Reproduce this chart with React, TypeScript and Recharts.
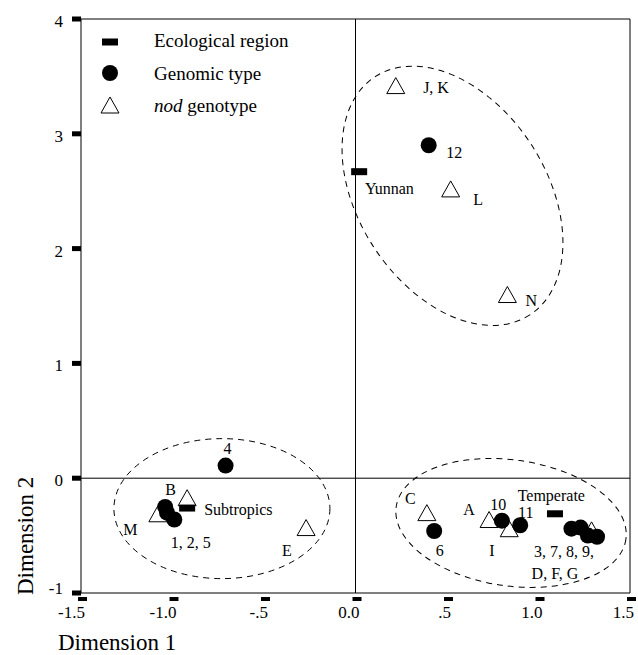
import React from 'react';
import {
  ScatterChart,
  Scatter,
  XAxis,
  YAxis,
  ReferenceLine,
  ReferenceArea,
  Legend,
  Label,
} from 'recharts';

// tick values and their printed labels
const xTicks = [-1.5, -1, -0.5, 0, 0.5, 1, 1.5];
const xTickLabels = ['-1.5', '-1.0', '-.5', '0.0', '.5', '1.0', '1.5'];
const yTicks = [-1, 0, 1, 2, 3, 4];

// ecological regions (black bars)
const ecoRegions = [
  { name: 'Yunnan', x: 0.02, y: 2.67 },
  { name: 'Subtropics', x: -0.92, y: -0.26 },
  { name: 'Temperate', x: 1.09, y: -0.31 },
];

// genomic types (filled circles)
const genomicTypes = [
  { name: '12', x: 0.4, y: 2.9 },
  { name: '4', x: -0.71, y: 0.11 },
  { name: '1', x: -1.04, y: -0.25 },
  { name: '2', x: -1.03, y: -0.3 },
  { name: '5', x: -0.99, y: -0.36 },
  { name: '6', x: 0.43, y: -0.46 },
  { name: '10', x: 0.8, y: -0.37 },
  { name: '11', x: 0.9, y: -0.41 },
  { name: '3', x: 1.18, y: -0.44 },
  { name: '7', x: 1.23, y: -0.43 },
  { name: '8', x: 1.27, y: -0.5 },
  { name: '9', x: 1.32, y: -0.51 },
];

// nod genotypes (open triangles)
const nodGenotypes = [
  { name: 'J, K', x: 0.22, y: 3.42 },
  { name: 'L', x: 0.52, y: 2.52 },
  { name: 'N', x: 0.83, y: 1.6 },
  { name: 'B', x: -0.92, y: -0.17 },
  { name: 'M', x: -1.08, y: -0.31 },
  { name: 'E', x: -0.27, y: -0.43 },
  { name: 'C', x: 0.39, y: -0.3 },
  { name: 'A', x: 0.73, y: -0.36 },
  { name: 'I', x: 0.84, y: -0.44 },
  { name: 'D, F, G', x: 1.29, y: -0.45 },
];

// text annotations next to the points
const pointLabels = [
  { text: 'J, K', x: 0.44, y: 3.4 },
  { text: '12', x: 0.54, y: 2.84 },
  { text: 'Yunnan', x: 0.185, y: 2.52 },
  { text: 'L', x: 0.67, y: 2.43 },
  { text: 'N', x: 0.96, y: 1.55 },
  { text: '4', x: -0.7, y: 0.26 },
  { text: 'B', x: -1.01, y: -0.1 },
  { text: 'Subtropics', x: -0.64, y: -0.27 },
  { text: 'M', x: -1.23, y: -0.45 },
  { text: '1, 2, 5', x: -0.9, y: -0.56 },
  { text: 'E', x: -0.375, y: -0.63 },
  { text: 'C', x: 0.3, y: -0.18 },
  { text: 'A', x: 0.62, y: -0.27 },
  { text: '10', x: 0.78, y: -0.23 },
  { text: '11', x: 0.93, y: -0.3 },
  { text: 'Temperate', x: 1.07, y: -0.15 },
  { text: '6', x: 0.46, y: -0.63 },
  { text: 'I', x: 0.745, y: -0.63 },
  { text: '3, 7, 8, 9,', x: 1.14, y: -0.64 },
  { text: 'D, F, G', x: 1.09, y: -0.83 },
];

// cluster centres of the dashed ellipses
const clusters = [
  { name: 'yunnan', x: 0.53, y: 2.46 },
  { name: 'subtropics', x: -0.73, y: -0.265 },
  { name: 'temperate', x: 0.85, y: -0.39 },
];

// ellipse geometry in pixels (semi axes, rotation)
const ELLIPSE_GEOM: Record<string, { rx: number; ry: number; angle: number }> = {
  yunnan: { rx: 142, ry: 94, angle: 57 },
  subtropics: { rx: 108, ry: 70, angle: 0 },
  temperate: { rx: 116, ry: 63, angle: 8 },
};

const FONT = '"Liberation Serif", "Times New Roman", Times, serif';
const W = 630;
const H = 647;
const PLOT_LEFT = 73;
const PLOT_BOTTOM = 585;

const Bar = (props: any) => {
  const { cx, cy } = props;
  return <rect x={cx - 8} y={cy - 3.5} width={16} height={7} fill="#000" />;
};

const Dot = (props: any) => {
  const { cx, cy } = props;
  return <circle cx={cx} cy={cy} r={8} fill="#000" />;
};

const Tri = (props: any) => {
  const { cx, cy } = props;
  const pts = `${cx},${cy - 8} ${cx + 9},${cy + 8} ${cx - 9},${cy + 8}`;
  return <polygon points={pts} fill="#fff" stroke="#000" strokeWidth={1} />;
};

const TextMark = (props: any) => {
  const { cx, cy, payload } = props;
  return (
    <text x={cx} y={cy + 5.5} textAnchor="middle" fontFamily={FONT} fontSize={16} fill="#000">
      {payload.text}
    </text>
  );
};

const EllipseMark = (props: any) => {
  const { cx, cy, payload } = props;
  const g = ELLIPSE_GEOM[payload.name];
  return (
    <ellipse
      cx={cx}
      cy={cy}
      rx={g.rx}
      ry={g.ry}
      transform={`rotate(${g.angle} ${cx} ${cy})`}
      fill="none"
      stroke="#000"
      strokeWidth={1}
      strokeDasharray="6 5"
    />
  );
};

const XTick = (props: any) => {
  const { x, payload } = props;
  const i = xTicks.indexOf(payload.value);
  return (
    <g>
      <rect x={x - 3} y={PLOT_BOTTOM + 4} width={9} height={4} fill="#000" />
      <text x={x + 4} y={PLOT_BOTTOM + 25} textAnchor="end" fontFamily={FONT} fontSize={17} fill="#000">
        {xTickLabels[i]}
      </text>
    </g>
  );
};

const YTick = (props: any) => {
  const { y, payload } = props;
  // the bottom label sits a little higher in the original
  const dy = payload.value === -1 ? 1 : 8;
  return (
    <g>
      <rect x={PLOT_LEFT - 9} y={y - 2.5} width={9} height={5} fill="#000" />
      <text x={PLOT_LEFT - 18} y={y + dy} textAnchor="end" fontFamily={FONT} fontSize={17} fill="#000">
        {payload.value}
      </text>
    </g>
  );
};

const renderLegend = () => (
  <svg width={300} height={130} style={{ display: 'block' }}>
    <rect x={94} y={30.5} width={16} height={7} fill="#000" />
    <circle cx={102} cy={65} r={8} fill="#000" />
    <polygon points="102,89 111,105 93,105" fill="#fff" stroke="#000" strokeWidth={1} />
    <g fontFamily={FONT} fontSize={19} fill="#000">
      <text x={146} y={39}>Ecological region</text>
      <text x={146} y={72}>Genomic type</text>
      <text x={146} y={104}>
        <tspan fontStyle="italic">nod</tspan> genotype
      </text>
    </g>
  </svg>
);

export default function App() {
  return (
    <div style={{ padding: '8px 0 0 8px' }}>
      <style>{'body { margin: 0; overflow: hidden; }'}</style>
      <ScatterChart width={W} height={H} margin={{ top: 11, right: 8, bottom: 0, left: 0 }}>
        <XAxis
          type="number"
          dataKey="x"
          domain={[-1.5, 1.5]}
          ticks={xTicks}
          allowDataOverflow
          height={62}
          axisLine={false}
          tickLine={false}
          tick={<XTick />}
          interval={0}
        >
          <Label
            content={() => (
              <text x={50} y={642} fontFamily={FONT} fontSize={23} fill="#000">
                Dimension 1
              </text>
            )}
          />
        </XAxis>
        <YAxis
          type="number"
          dataKey="y"
          domain={[-1, 4]}
          ticks={yTicks}
          allowDataOverflow
          width={PLOT_LEFT}
          axisLine={false}
          tickLine={false}
          tick={<YTick />}
          interval={0}
        >
          <Label
            content={() => (
              <text
                x={25}
                y={587}
                transform="rotate(-90 25 587)"
                fontFamily={FONT}
                fontSize={23}
                fill="#000"
              >
                Dimension 2
              </text>
            )}
          />
        </YAxis>
        <ReferenceArea x1={-1.5} x2={1.5} y1={-1} y2={4} fill="none" stroke="#000" strokeWidth={1} />
        <ReferenceLine x={0} stroke="#000" strokeWidth={1} />
        <ReferenceLine y={0} stroke="#000" strokeWidth={1} />
        <Legend
          layout="vertical"
          align="center"
          verticalAlign="middle"
          content={renderLegend}
          wrapperStyle={{ left: 0, top: 0, width: 300, height: 130 }}
        />
        <Scatter name="clusters" data={clusters} shape={<EllipseMark />} isAnimationActive={false} legendType="none" />
        <Scatter name="nod genotype" data={nodGenotypes} shape={<Tri />} isAnimationActive={false} />
        <Scatter name="Genomic type" data={genomicTypes} shape={<Dot />} isAnimationActive={false} />
        <Scatter name="Ecological region" data={ecoRegions} shape={<Bar />} isAnimationActive={false} />
        <Scatter name="labels" data={pointLabels} shape={<TextMark />} isAnimationActive={false} legendType="none" />
      </ScatterChart>
    </div>
  );
}
